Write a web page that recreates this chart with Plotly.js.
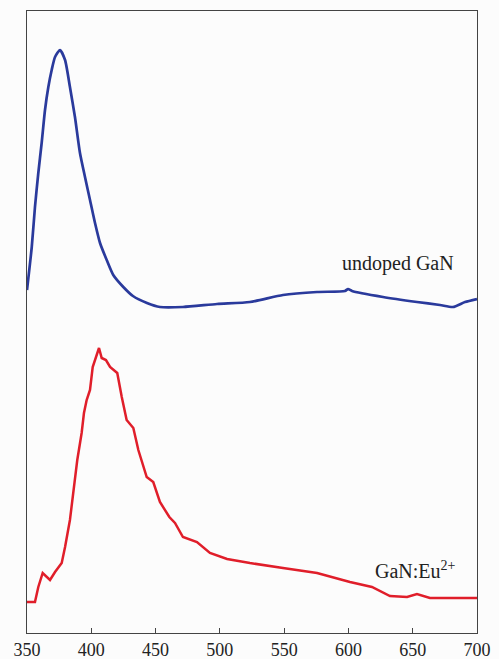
<!DOCTYPE html>
<html>
<head>
<meta charset="utf-8">
<script src="https://cdn.plot.ly/plotly-3.0.1.min.js"></script>
<style>html,body{margin:0;padding:0;background:#fcfcfc;}#chart{width:499px;height:659px;}</style>
</head>
<body>
<div id="chart"></div>
<script>
var undopedWavelength = [350, 353.7, 356.2, 358.8, 361.4, 364, 366.6, 369.2, 371.8, 375.7, 379.6, 383.4, 387.3, 391.2, 395.1, 399, 402.9, 406.8, 412, 417.1, 424.9, 432.4, 443.3, 453.4, 471.3, 497.8, 523.4, 549.1, 575.6, 597.3, 599.7, 602.8, 626.9, 653.3, 671.2, 681.3, 690.7, 700];
var undopedIntensity = [343, 386, 426, 460, 490, 523, 546, 563, 576, 583, 573, 546, 516, 480, 456, 433, 410, 390, 373, 358, 346, 337, 330, 326, 326, 329, 331, 338, 341, 342, 344, 342, 336, 331, 328, 326, 331, 334];

var euWavelength = [350, 356.2, 358.8, 362.2, 367.9, 371.8, 377, 379.6, 383.4, 386, 389.1, 392.5, 394.3, 396.4, 399, 401.1, 403.7, 406, 408.1, 411.4, 414.6, 420.2, 423.7, 427.5, 432.7, 436.6, 443.1, 448.2, 453.4, 460.7, 465.1, 471.3, 482.2, 492.3, 505.6, 523.4, 549.1, 575.6, 601.2, 618.3, 632.3, 645.6, 653.3, 663.4, 700];
var euIntensity = [31, 31, 46, 60, 53, 61, 70, 86, 113, 140, 173, 200, 220, 233, 243, 266, 276, 285, 275, 273, 266, 260, 236, 213, 205, 183, 156, 151, 131, 116, 110, 96, 91, 80, 74, 70, 65, 60, 51, 46, 37, 36, 39, 35, 35];

var tickValues = [350, 400, 450, 500, 550, 600, 650, 700];
var seriesLabels = ['undoped GaN', 'GaN:Eu<sup>2+</sup>'];

var serif = 'Liberation Serif';

var traces = [
  {x: undopedWavelength, y: undopedIntensity, mode: 'lines', type: 'scatter',
   line: {color: '#2a3a9c', width: 2.7, shape: 'spline', smoothing: 0.6}, name: seriesLabels[0]},
  {x: euWavelength, y: euIntensity, mode: 'lines', type: 'scatter',
   line: {color: '#e01e2a', width: 2.5}, name: seriesLabels[1]}
];

var layout = {
  width: 499, height: 659,
  margin: {l: 27, r: 22, t: 11, b: 26},
  paper_bgcolor: '#fcfcfc', plot_bgcolor: '#fcfcfc',
  showlegend: false,
  font: {family: serif, color: '#222'},
  xaxis: {range: [350, 700], tickvals: tickValues, ticktext: tickValues.map(String),
          ticks: 'inside', ticklen: 5, tickcolor: '#444', tickwidth: 1,
          showline: true, linecolor: '#444', linewidth: 1, mirror: true,
          showgrid: false, zeroline: false, tickfont: {family: serif, size: 18, color: '#222'}},
  yaxis: {range: [0, 622], showticklabels: false, ticks: '',
          showline: true, linecolor: '#444', linewidth: 1, mirror: true,
          showgrid: false, zeroline: false},
  annotations: [
    {x: 684, y: 370, xref: 'x', yref: 'y', text: seriesLabels[0], showarrow: false,
     xanchor: 'right', yanchor: 'middle', font: {family: serif, size: 20, color: '#222'}},
    {x: 685, y: 63, xref: 'x', yref: 'y', text: seriesLabels[1], showarrow: false,
     xanchor: 'right', yanchor: 'middle', font: {family: serif, size: 20, color: '#222'}}
  ]
};

Plotly.newPlot('chart', traces, layout, {displayModeBar: false, staticPlot: true});
</script>
</body>
</html>
